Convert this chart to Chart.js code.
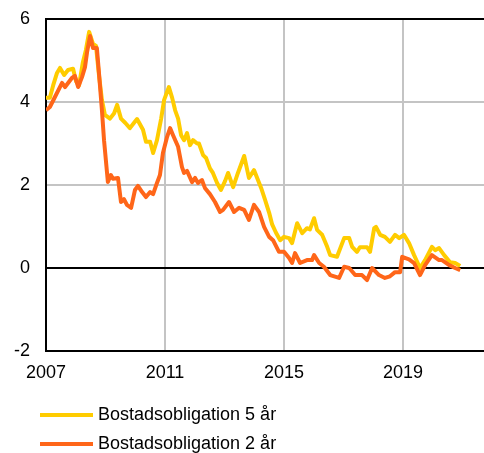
<!DOCTYPE html>
<html>
<head>
<meta charset="utf-8">
<script src="https://cdn.jsdelivr.net/npm/chart.js@4.4.1/dist/chart.umd.min.js"></script>
<style>
  html, body { margin: 0; padding: 0; background: #fff; }
  #chart { display: block; }
</style>
</head>
<body>
<canvas id="chart" width="484" height="453"></canvas>
<script>
// Bostadsobligationer, ränta i procent
const years5 = [2007.00, 2007.13, 2007.24, 2007.37, 2007.47, 2007.61, 2007.74, 2007.91, 2008.01, 2008.11,
  2008.24, 2008.34, 2008.45, 2008.58, 2008.68, 2008.78, 2008.88, 2008.98, 2009.15, 2009.29,
  2009.39, 2009.52, 2009.66, 2009.82, 2009.96, 2010.06, 2010.26, 2010.36, 2010.50, 2010.60,
  2010.73, 2010.87, 2010.97, 2011.13, 2011.24, 2011.34, 2011.44, 2011.54, 2011.64, 2011.74,
  2011.84, 2011.94, 2012.08, 2012.14, 2012.28, 2012.38, 2012.51, 2012.61, 2012.75, 2012.88,
  2013.02, 2013.12, 2013.29, 2013.45, 2013.66, 2013.82, 2013.99, 2014.23, 2014.36, 2014.50,
  2014.60, 2014.73, 2014.87, 2015.00, 2015.17, 2015.27, 2015.44, 2015.61, 2015.77, 2015.87,
  2016.01, 2016.11, 2016.28, 2016.45, 2016.55, 2016.78, 2017.02, 2017.19, 2017.29, 2017.45,
  2017.55, 2017.79, 2017.89, 2018.03, 2018.09, 2018.23, 2018.39, 2018.56, 2018.73, 2018.87,
  2019.03, 2019.20, 2019.37, 2019.57, 2019.74, 2019.97, 2020.08, 2020.21, 2020.38, 2020.58,
  2020.75, 2020.92];
const rate5 = [4.10, 4.10, 4.40, 4.70, 4.82, 4.65, 4.77, 4.80, 4.50, 4.40,
  4.96, 5.25, 5.69, 5.40, 5.35, 4.65, 4.05, 3.69, 3.60, 3.73,
  3.93, 3.60, 3.50, 3.37, 3.50, 3.59, 3.33, 3.04, 3.04, 2.77,
  3.08, 3.60, 4.05, 4.36, 4.10, 3.80, 3.60, 3.20, 3.08, 3.25,
  2.96, 3.08, 3.00, 3.00, 2.72, 2.65, 2.40, 2.29, 2.05, 1.88,
  2.10, 2.29, 1.95, 2.29, 2.70, 2.17, 2.36, 1.93, 1.65, 1.33,
  1.05, 0.85, 0.67, 0.75, 0.72, 0.60, 1.08, 0.84, 0.96, 0.93,
  1.20, 0.92, 0.80, 0.51, 0.31, 0.27, 0.72, 0.72, 0.51, 0.39,
  0.50, 0.50, 0.39, 0.96, 0.99, 0.80, 0.75, 0.63, 0.80, 0.72,
  0.80, 0.60, 0.31, 0.00, 0.19, 0.51, 0.43, 0.48, 0.31, 0.14,
  0.12, 0.05];

const years2 = [2007.00, 2007.13, 2007.30, 2007.54, 2007.64, 2007.87, 2007.97, 2008.08, 2008.21, 2008.31,
  2008.38, 2008.48, 2008.58, 2008.71, 2008.78, 2008.88, 2008.95, 2009.08, 2009.18, 2009.25,
  2009.42, 2009.52, 2009.62, 2009.72, 2009.86, 2009.99, 2010.09, 2010.23, 2010.36, 2010.50,
  2010.60, 2010.73, 2010.83, 2010.93, 2011.07, 2011.17, 2011.27, 2011.44, 2011.57, 2011.64,
  2011.74, 2011.91, 2012.01, 2012.11, 2012.24, 2012.34, 2012.51, 2012.68, 2012.85, 2012.95,
  2013.15, 2013.32, 2013.49, 2013.66, 2013.82, 2013.99, 2014.16, 2014.33, 2014.50, 2014.63,
  2014.83, 2015.00, 2015.17, 2015.27, 2015.37, 2015.54, 2015.77, 2015.94, 2016.01, 2016.18,
  2016.34, 2016.55, 2016.85, 2017.02, 2017.19, 2017.39, 2017.62, 2017.79, 2017.96, 2018.19,
  2018.39, 2018.56, 2018.73, 2018.90, 2018.97, 2019.20, 2019.37, 2019.57, 2019.74, 2019.97,
  2020.21, 2020.31, 2020.55, 2020.75, 2020.92];
const rate2 = [3.80, 3.88, 4.12, 4.46, 4.36, 4.58, 4.63, 4.36, 4.60, 4.84,
  5.20, 5.59, 5.30, 5.30, 4.70, 3.80, 3.08, 2.07, 2.24, 2.15,
  2.17, 1.59, 1.66, 1.52, 1.45, 1.88, 1.98, 1.83, 1.71, 1.83,
  1.78, 2.05, 2.24, 2.77, 3.16, 3.37, 3.20, 2.92, 2.43, 2.29,
  2.34, 2.07, 2.17, 2.05, 2.12, 1.93, 1.78, 1.59, 1.35, 1.40,
  1.59, 1.35, 1.45, 1.40, 1.16, 1.52, 1.35, 0.99, 0.75, 0.67,
  0.39, 0.39, 0.24, 0.12, 0.36, 0.12, 0.19, 0.19, 0.31, 0.12,
  0.03, -0.17, -0.24, 0.03, 0.00, -0.17, -0.17, -0.29, 0.00, -0.17,
  -0.24, -0.20, -0.10, -0.10, 0.27, 0.21, 0.12, -0.17, 0.07, 0.31,
  0.19, 0.19, 0.07, 0.00, -0.05];

const xTicks = [2007, 2011, 2015, 2019];
const yTicks = [-2, 0, 2, 4, 6];
const seriesNames = ['Bostadsobligation 5 år', 'Bostadsobligation 2 år'];

const FONT = "'Liberation Sans', Arial, sans-serif";

const toPoints = (xs, ys) => xs.map((x, i) => ({ x: x, y: ys[i] }));

// legend drawn as two stacked rows under the x axis
const stackedLegend = {
  id: 'stackedLegend',
  afterDraw(chart) {
    const ctx = chart.ctx;
    ctx.save();
    ctx.font = '18px ' + FONT;
    ctx.textBaseline = 'middle';
    ctx.fillStyle = '#000';
    chart.data.datasets.forEach((ds, i) => {
      const y = 415 + i * 29;
      ctx.strokeStyle = ds.borderColor;
      ctx.lineWidth = 4;
      ctx.beginPath();
      ctx.moveTo(40, y);
      ctx.lineTo(93, y);
      ctx.stroke();
      ctx.fillText(ds.label, 98, y);
    });
    ctx.restore();
  }
};

new Chart(document.getElementById('chart'), {
  type: 'line',
  data: {
    datasets: [{
      label: seriesNames[0],
      data: toPoints(years5, rate5),
      borderColor: '#FFCC00',
      borderWidth: 4,
      pointRadius: 0,
      borderJoinStyle: 'round',
      order: 1
    }, {
      label: seriesNames[1],
      data: toPoints(years2, rate2),
      borderColor: '#FF6619',
      borderWidth: 4,
      pointRadius: 0,
      borderJoinStyle: 'round',
      order: 0
    }]
  },
  options: {
    responsive: false,
    animation: false,
    layout: { padding: { top: 19, right: 0, bottom: 0, left: 0 } },
    plugins: {
      legend: { display: false },
      tooltip: { enabled: false }
    },
    scales: {
      x: {
        type: 'linear',
        min: 2007,
        max: 2021.72,
        afterBuildTicks: scale => { scale.ticks = xTicks.map(v => ({ value: v })); },
        afterFit: scale => { scale.height = 102; },
        ticks: {
          padding: 11,
          color: '#000',
          font: { family: FONT, size: 18 },
          maxRotation: 0,
          callback: v => String(v)
        },
        grid: {
          drawTicks: false,
          color: c => c.tick && c.tick.value === 2007 ? '#000' : '#C4C4C4',
          lineWidth: 2
        },
        border: { color: '#000', width: 2 }
      },
      y: {
        min: -2,
        max: 6,
        afterBuildTicks: scale => { scale.ticks = yTicks.map(v => ({ value: v })); },
        afterFit: scale => {
          scale.width = 46;
          // tick padding would otherwise push the plot top down
          scale.paddingTop = 0;
          scale.paddingBottom = 0;
        },
        ticks: {
          padding: 16,
          color: '#000',
          font: { family: FONT, size: 18 },
          callback: v => String(v)
        },
        grid: {
          drawTicks: false,
          color: c => (c.tick && (c.tick.value === 0 || c.tick.value === 6 || c.tick.value === -2)) ? '#000' : '#C4C4C4',
          lineWidth: 2
        },
        border: { color: '#000', width: 2 }
      }
    }
  },
  plugins: [stackedLegend]
});
</script>
</body>
</html>
